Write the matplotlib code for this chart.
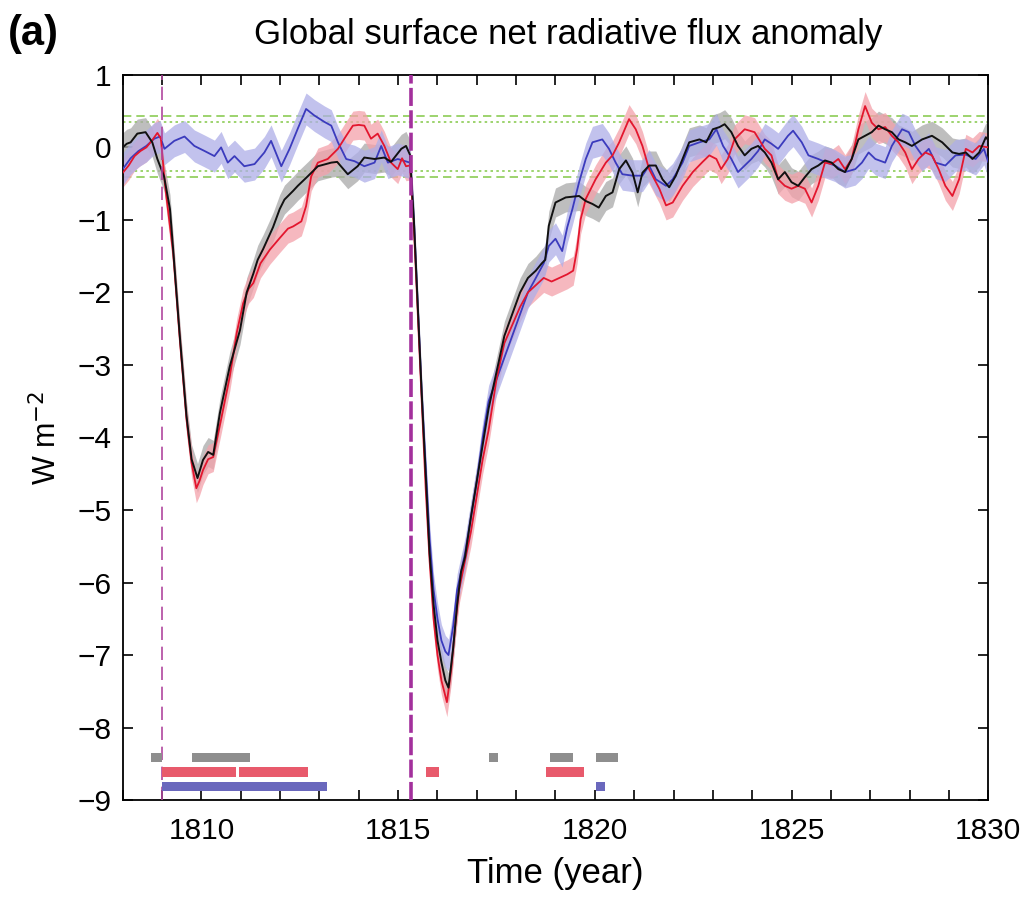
import matplotlib
matplotlib.use("Agg")
import matplotlib.pyplot as plt
from matplotlib.ticker import MultipleLocator

plt.rcParams['font.family'] = ['Liberation Sans', 'DejaVu Sans']

# ---------------- data ----------------
red_years = [1808.0, 1808.15, 1808.3, 1808.45, 1808.6, 1808.75, 1808.88, 1808.97, 1809.07, 1809.28,
             1809.45, 1809.62, 1809.75, 1809.87, 1809.95, 1810.04, 1810.17, 1810.3, 1810.5, 1810.72,
             1810.9, 1811.06, 1811.2, 1811.32, 1811.5, 1811.74, 1811.99, 1812.2, 1812.33, 1812.54,
             1812.66, 1812.79, 1812.96, 1813.21, 1813.47, 1813.68, 1813.85, 1814.0, 1814.14, 1814.31,
             1814.48, 1814.65, 1814.82, 1814.99, 1815.1, 1815.2, 1815.3, 1815.4, 1815.5, 1815.6,
             1815.7, 1815.8, 1815.9, 1816.0, 1816.1, 1816.24, 1816.35, 1816.45, 1816.55, 1816.7,
             1816.85, 1817.0, 1817.15, 1817.3, 1817.5, 1817.7, 1817.9, 1818.1, 1818.3, 1818.5,
             1818.7, 1818.9, 1819.1, 1819.3, 1819.45, 1819.55, 1819.64, 1819.77, 1820.02, 1820.28,
             1820.45, 1820.62, 1820.87, 1821.04, 1821.21, 1821.38, 1821.64, 1821.81, 1821.98, 1822.23,
             1822.49, 1822.74, 1822.91, 1823.09, 1823.21, 1823.38, 1823.55, 1823.81, 1824.06, 1824.32,
             1824.49, 1824.66, 1824.83, 1825.0, 1825.17, 1825.34, 1825.51, 1825.68, 1825.85, 1826.02,
             1826.19, 1826.36, 1826.53, 1826.7, 1826.87, 1827.04, 1827.21, 1827.38, 1827.55, 1827.72,
             1827.89, 1828.06, 1828.23, 1828.4, 1828.57, 1828.74, 1828.91, 1829.09, 1829.26, 1829.43,
             1829.6, 1829.77, 1830.0]
red_vals = [-0.35, -0.25, -0.12, -0.05, 0.0, 0.1, 0.2, 0.12, -0.5, -1.45,
            -2.65, -3.75, -4.35, -4.7, -4.6, -4.45, -4.3, -4.27, -3.75, -3.16,
            -2.55, -2.15, -1.95, -1.87, -1.6, -1.41, -1.25, -1.12, -1.09, -1.02,
            -0.81, -0.40, -0.21, -0.16, -0.02, 0.16, 0.30, 0.31, 0.30, 0.12,
            0.19, 0.02, -0.21, -0.30, -0.15, -0.26, -0.25, -1.1, -2.3, -3.5,
            -4.7, -5.7, -6.5, -7.0, -7.35, -7.65, -7.2, -6.6, -6.1, -5.7,
            -5.3, -4.8, -4.3, -3.9, -3.2, -2.7, -2.45, -2.2, -2.0, -1.9,
            -1.8, -1.85, -1.8, -1.75, -1.7, -1.4, -0.99, -0.71, -0.44, -0.21,
            -0.11, 0.07, 0.39, 0.25, 0.02, -0.3, -0.57, -0.8, -0.76, -0.53,
            -0.34, -0.2, -0.11, -0.16, -0.3, -0.16, 0.11, 0.25, 0.21, -0.02,
            -0.11, -0.44, -0.53, -0.57, -0.53, -0.57, -0.76, -0.53, -0.21, -0.23,
            -0.16, -0.3, -0.16, 0.25, 0.57, 0.34, 0.25, 0.28, 0.16, 0.07,
            -0.07, -0.3, -0.16, -0.07, -0.11, -0.3, -0.53, -0.67, -0.44, -0.02,
            -0.07, 0.02, 0.0]

black_years = [1808.0, 1808.1, 1808.2, 1808.37, 1808.58, 1808.75, 1808.88, 1809.05, 1809.2, 1809.28,
               1809.45, 1809.62, 1809.75, 1809.9, 1810.04, 1810.17, 1810.3, 1810.47, 1810.72, 1810.98,
               1811.15, 1811.32, 1811.43, 1811.57, 1811.82, 1811.99, 1812.11, 1812.33, 1812.45, 1812.7,
               1812.96, 1813.3, 1813.45, 1813.72, 1813.97, 1814.14, 1814.4, 1814.65, 1814.82, 1815.08,
               1815.2, 1815.3, 1815.4, 1815.5, 1815.6, 1815.7, 1815.8, 1815.9, 1816.0, 1816.1,
               1816.2, 1816.28, 1816.4, 1816.5, 1816.6, 1816.7, 1816.85, 1817.0, 1817.15, 1817.3,
               1817.5, 1817.7, 1817.9, 1818.1, 1818.3, 1818.5, 1818.65, 1818.74, 1818.83, 1819.0,
               1819.26, 1819.6, 1819.77, 1819.94, 1820.1, 1820.28, 1820.45, 1820.62, 1820.79, 1820.96,
               1821.09, 1821.21, 1821.38, 1821.55, 1821.72, 1821.89, 1822.06, 1822.23, 1822.4, 1822.66,
               1822.83, 1823.0, 1823.17, 1823.3, 1823.47, 1823.64, 1823.81, 1823.98, 1824.15, 1824.32,
               1824.49, 1824.66, 1824.83, 1825.0, 1825.17, 1825.34, 1825.51, 1825.68, 1825.85, 1826.02,
               1826.19, 1826.36, 1826.53, 1826.7, 1826.87, 1827.04, 1827.21, 1827.38, 1827.55, 1827.72,
               1827.89, 1828.06, 1828.32, 1828.57, 1828.83, 1829.09, 1829.26, 1829.43, 1829.6, 1829.77,
               1829.94, 1830.0]
black_vals = [0.0, 0.05, 0.07, 0.19, 0.21, 0.07, -0.16, -0.4, -0.85, -1.4,
              -2.6, -3.7, -4.3, -4.56, -4.31, -4.2, -4.24, -3.66, -3.02, -2.52,
              -2.0, -1.74, -1.55, -1.4, -1.1, -0.85, -0.72, -0.6, -0.53, -0.4,
              -0.26, -0.21, -0.2, -0.37, -0.26, -0.14, -0.16, -0.14, -0.2, -0.02,
              0.02, -0.1, -1.0, -2.2, -3.4, -4.5, -5.6, -6.3, -6.8, -7.1,
              -7.35, -7.45, -6.9, -6.3, -5.85, -5.65, -5.1, -4.6, -4.1, -3.6,
              -3.1, -2.6, -2.3, -2.0, -1.8, -1.7, -1.6, -1.55, -1.08, -0.76,
              -0.69, -0.67, -0.74, -0.78, -0.83, -0.67, -0.62, -0.3, -0.18, -0.35,
              -0.62, -0.35, -0.25, -0.25, -0.44, -0.55, -0.39, -0.16, 0.07, 0.11,
              0.07, 0.25, 0.28, 0.32, 0.21, 0.02, -0.11, -0.02, 0.02, -0.07,
              -0.21, -0.44, -0.34, -0.48, -0.53, -0.41, -0.3, -0.25, -0.18, -0.21,
              -0.3, -0.34, -0.16, 0.11, 0.16, 0.21, 0.3, 0.25, 0.21, 0.11,
              0.07, 0.02, 0.11, 0.16, 0.07, -0.07, -0.09, -0.07, -0.16, -0.07,
              0.14, 0.1]

blue_years = [1808.0, 1808.2, 1808.4, 1808.6, 1808.8, 1808.95, 1809.06, 1809.31, 1809.57, 1809.82,
              1810.08, 1810.33, 1810.5, 1810.67, 1810.84, 1811.09, 1811.35, 1811.6, 1811.77, 1812.03,
              1812.24, 1812.45, 1812.66, 1812.87, 1813.13, 1813.3, 1813.47, 1813.68, 1813.89, 1814.14,
              1814.4, 1814.57, 1814.74, 1814.99, 1815.3, 1815.4, 1815.5, 1815.6, 1815.7, 1815.8,
              1815.9, 1816.0, 1816.1, 1816.2, 1816.28, 1816.4, 1816.5, 1816.7, 1816.85, 1817.0,
              1817.15, 1817.3, 1817.5, 1817.7, 1817.9, 1818.1, 1818.3, 1818.5, 1818.7, 1818.83,
              1819.0, 1819.17, 1819.3, 1819.43, 1819.6, 1819.77, 1819.94, 1820.19, 1820.36, 1820.53,
              1820.7, 1820.96, 1821.21, 1821.38, 1821.55, 1821.81, 1821.98, 1822.23, 1822.4, 1822.66,
              1822.91, 1823.09, 1823.26, 1823.47, 1823.64, 1823.81, 1823.98, 1824.15, 1824.32, 1824.49,
              1824.66, 1824.91, 1825.04, 1825.26, 1825.43, 1825.68, 1825.85, 1826.1, 1826.36, 1826.62,
              1826.79, 1826.96, 1827.13, 1827.38, 1827.55, 1827.81, 1827.98, 1828.15, 1828.32, 1828.49,
              1828.66, 1828.91, 1829.17, 1829.43, 1829.68, 1829.89, 1830.0]
blue_vals = [-0.3, -0.15, -0.05, 0.02, 0.12, 0.15, -0.02, 0.09, 0.15, 0.02,
             -0.05, -0.12, 0.0, -0.21, -0.12, -0.26, -0.23, -0.07, 0.09, -0.26,
             -0.02, 0.26, 0.53, 0.44, 0.35, 0.30, 0.07, -0.16, -0.19, -0.26,
             -0.21, 0.02, -0.21, -0.16, -0.21, -1.0, -2.2, -3.4, -4.4, -5.4,
             -6.1, -6.5, -6.8, -6.95, -7.0, -6.6, -6.1, -5.6, -5.1, -4.6,
             -4.0, -3.5, -3.2, -2.9, -2.6, -2.3, -2.0, -1.8, -1.6, -1.36,
             -1.26, -1.43, -1.1, -0.85, -0.48, -0.16, 0.07, 0.11, -0.02, -0.21,
             -0.37, -0.39, -0.39, -0.25, -0.44, -0.53, -0.44, -0.21, 0.02, 0.07,
             0.11, 0.25, 0.02, -0.16, -0.34, -0.25, -0.16, -0.05, 0.11, 0.05,
             -0.02, 0.16, 0.23, 0.07, -0.11, -0.16, -0.2, -0.25, -0.34, -0.3,
             -0.21, -0.07, -0.16, -0.21, 0.02, 0.25, 0.21, 0.02, -0.11, -0.02,
             -0.21, -0.25, -0.11, -0.1, -0.16, -0.02, -0.2]

# spread (half-width) of the ensemble bands
red_spread = 0.2
blue_spread = 0.22
black_spread = 0.2

# control-run significance levels (green)
green_dashed_levels = [0.43, -0.41]
green_dotted_levels = [0.35, -0.32]

# eruption dates
eruption_years = [1809.0, 1815.33]

# significance bars: (start, end)
gray_bars = [(1808.73, 1809.0), (1809.75, 1811.23), (1817.31, 1817.55), (1818.86, 1819.45), (1820.02, 1820.6)]
red_bars = [(1809.0, 1810.89), (1810.95, 1812.7), (1815.7, 1816.04), (1818.76, 1819.72)]
blue_bars = [(1809.0, 1813.19), (1820.02, 1820.27)]
bar_levels = [-8.41, -8.61, -8.81]

# ---------------- plot ----------------
fig = plt.figure(figsize=(10.23, 9.02), dpi=100)
ax = fig.add_axes([0.120, 0.113, 0.846, 0.804])

for lev in green_dashed_levels:
    ax.axhline(lev, color='#8ccc55', lw=1.2, ls=(0, (5, 3)), zorder=1)
for lev in green_dotted_levels:
    ax.axhline(lev, color='#8ccc55', lw=1.2, ls=(0, (1.5, 2)), zorder=1)

def band(yrs, vals, spread, color):
    lo = [v - spread for v in vals]
    hi = [v + spread for v in vals]
    ax.fill_between(yrs, lo, hi, color=color, alpha=0.75, lw=0, zorder=2)

band(black_years, black_vals, black_spread, '#a9a9a9')
band(red_years, red_vals, red_spread, '#f4a1aa')
band(blue_years, blue_vals, blue_spread, '#aeaee8')

ax.plot(blue_years, blue_vals, color='#3b3bbd', lw=1.3, zorder=3)
ax.plot(red_years, red_vals, color='#e3162e', lw=1.3, zorder=3)
ax.plot(black_years, black_vals, color='#111111', lw=1.4, zorder=4)

ax.axvline(eruption_years[0], color='#b0479e', lw=1.2, ls=(0, (8, 4)), zorder=5)
ax.axvline(eruption_years[1], color='#a3309c', lw=2.6, ls=(0, (5, 1.2)), zorder=5)

h = 0.13
for bars, lev, col in zip([gray_bars, red_bars, blue_bars], bar_levels,
                          ['#8e8e8e', '#e85a6c', '#6a68bd']):
    ax.broken_barh([(s, e - s) for s, e in bars], (lev - h / 2, h), facecolors=col, zorder=5)

ax.set_xlim(1808, 1830)
ax.set_ylim(-9, 1)
ax.xaxis.set_major_locator(MultipleLocator(5))
ax.xaxis.set_minor_locator(MultipleLocator(1))
ax.yaxis.set_major_locator(MultipleLocator(1))
ax.tick_params(which='both', direction='in', top=True, right=True, length=7, width=1.2,
               labelsize=21.5, pad=8)
ax.tick_params(axis='x', pad=12)
for sp in ax.spines.values():
    sp.set_linewidth(1.3)

ax.set_xlabel('Time (year)', fontsize=25, labelpad=9)
ax.set_ylabel('W m$^{-2}$', fontsize=22, labelpad=10)
fig.text(0.555, 0.962, 'Global surface net radiative flux anomaly', fontsize=25, ha='center', va='center')
fig.text(0.008, 0.962, '(a)', fontsize=30, fontweight='bold', ha='left', va='center')

fig.savefig('out.png', dpi=100)
